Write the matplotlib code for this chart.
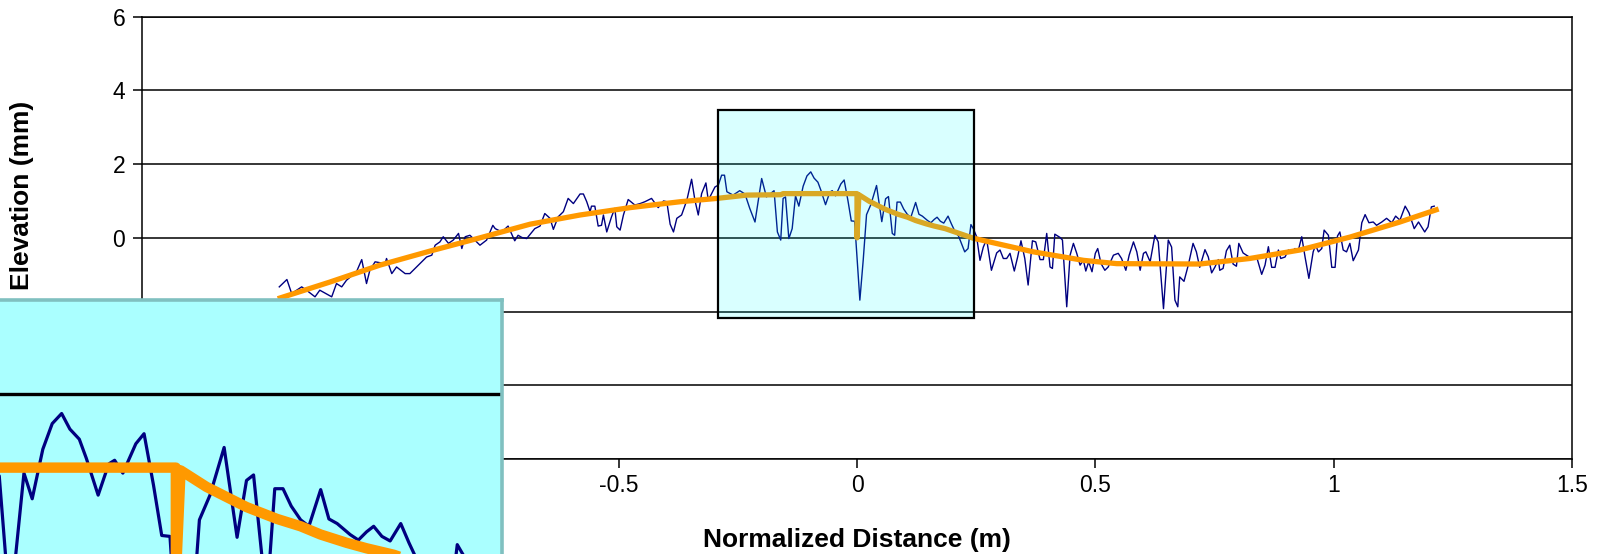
import numpy as np
import matplotlib
matplotlib.use('Agg')
import matplotlib.pyplot as plt
from matplotlib.patches import Rectangle
from matplotlib.ticker import FormatStrFormatter

plt.rcParams['font.family'] = ['Liberation Sans', 'DejaVu Sans']

# measured profile: distance (m) / elevation (mm)
dist = [
	-1.212, -1.196, -1.186, -1.165, -1.155, -1.137, -1.127, -1.102, -1.092, -1.081,
	-1.071, -1.050, -1.039, -1.029, -1.022, -1.011, -0.990, -0.987, -0.976, -0.966,
	-0.948, -0.938, -0.924, -0.903, -0.892, -0.885, -0.875, -0.868, -0.857, -0.847,
	-0.836, -0.829, -0.822, -0.812, -0.791, -0.777, -0.764, -0.759, -0.745, -0.732,
	-0.718, -0.711, -0.703, -0.693, -0.676, -0.665, -0.655, -0.644, -0.637, -0.627,
	-0.616, -0.606, -0.595, -0.581, -0.574, -0.567, -0.560, -0.557, -0.550, -0.543,
	-0.536, -0.532, -0.525, -0.515, -0.508, -0.504, -0.497, -0.490, -0.480, -0.466,
	-0.455, -0.445, -0.431, -0.417, -0.406, -0.399, -0.392, -0.385, -0.378, -0.368,
	-0.357, -0.347, -0.340, -0.333, -0.326, -0.317, -0.312, -0.305, -0.298, -0.291,
	-0.284, -0.278, -0.273, -0.266, -0.260, -0.246, -0.235, -0.225, -0.214, -0.200,
	-0.190, -0.174, -0.167, -0.160, -0.155, -0.150, -0.143, -0.136, -0.129, -0.122,
	-0.113, -0.105, -0.097, -0.090, -0.082, -0.076, -0.066, -0.057, -0.052, -0.045,
	-0.034, -0.027, -0.019, -0.012, -0.005, 0.006, 0.013, 0.020, 0.029, 0.041,
	0.052, 0.060, 0.066, 0.074, 0.079, 0.084, 0.091, 0.098, 0.106, 0.113,
	0.123, 0.130, 0.137, 0.148, 0.155, 0.162, 0.168, 0.175, 0.182, 0.191,
	0.198, 0.206, 0.213, 0.226, 0.233, 0.239, 0.244, 0.251, 0.258, 0.265,
	0.272, 0.282, 0.293, 0.300, 0.307, 0.314, 0.321, 0.330, 0.337, 0.344,
	0.352, 0.359, 0.368, 0.375, 0.384, 0.391, 0.398, 0.405, 0.410, 0.415,
	0.426, 0.431, 0.440, 0.447, 0.454, 0.461, 0.468, 0.475, 0.480, 0.486,
	0.493, 0.500, 0.505, 0.512, 0.520, 0.527, 0.538, 0.548, 0.555, 0.564,
	0.571, 0.580, 0.587, 0.594, 0.601, 0.606, 0.615, 0.625, 0.632, 0.643,
	0.653, 0.660, 0.667, 0.673, 0.677, 0.686, 0.695, 0.705, 0.712, 0.719,
	0.730, 0.737, 0.744, 0.751, 0.758, 0.761, 0.768, 0.775, 0.782, 0.789,
	0.796, 0.801, 0.810, 0.817, 0.828, 0.838, 0.849, 0.856, 0.863, 0.870,
	0.877, 0.884, 0.889, 0.898, 0.905, 0.912, 0.919, 0.926, 0.933, 0.940,
	0.948, 0.957, 0.962, 0.968, 0.975, 0.980, 0.989, 0.996, 1.003, 1.008,
	1.013, 1.020, 1.027, 1.034, 1.041, 1.052, 1.059, 1.066, 1.074, 1.083,
	1.090, 1.101, 1.111, 1.122, 1.130, 1.139, 1.150, 1.158, 1.169, 1.178,
	1.191, 1.198, 1.205, 1.211]
elev = [
	-1.33, -1.13, -1.51, -1.33, -1.42, -1.60, -1.42, -1.60, -1.24, -1.33,
	-1.15, -0.92, -0.59, -1.24, -0.88, -0.65, -0.70, -0.56, -0.97, -0.79,
	-0.97, -0.97, -0.79, -0.52, -0.47, -0.20, -0.11, 0.03, -0.15, -0.06,
	0.12, -0.29, 0.03, 0.07, -0.20, -0.06, 0.34, 0.25, 0.16, 0.32,
	-0.08, 0.07, 0.01, -0.02, 0.25, 0.32, 0.66, 0.53, 0.23, 0.57,
	0.71, 1.07, 0.93, 1.19, 1.19, 0.98, 0.71, 0.86, 0.86, 0.32,
	0.34, 0.62, 0.16, 0.57, 0.80, 0.30, 0.21, 0.62, 1.04, 0.89,
	0.93, 0.98, 1.07, 0.82, 1.00, 0.98, 0.37, 0.16, 0.53, 0.62,
	1.02, 1.59, 1.02, 0.62, 1.20, 1.49, 1.02, 1.20, 1.38, 1.43,
	1.70, 1.70, 1.25, 1.20, 1.16, 1.28, 1.19, 0.80, 0.43, 1.61,
	1.11, 1.28, 0.16, -0.06, 1.07, 1.11, -0.02, 0.25, 1.14, 0.86,
	1.40, 1.68, 1.79, 1.62, 1.51, 1.30, 0.90, 1.24, 1.28, 1.14,
	1.46, 1.57, 1.01, 0.46, 0.45, -1.69, -0.61, 0.63, 0.90, 1.42,
	0.44, 1.06, 1.12, 0.12, 0.07, 0.97, 0.97, 0.78, 0.63, 0.56,
	0.96, 0.64, 0.59, 0.47, 0.41, 0.50, 0.56, 0.45, 0.40, 0.59,
	0.38, 0.16, 0.05, -0.38, -0.29, 0.36, 0.25, 0.03, -0.61, -0.25,
	-0.04, -0.88, -0.41, -0.33, -0.56, -0.56, -0.42, -0.90, -0.52, -0.08,
	-0.56, -1.28, -0.08, -0.11, -0.59, -0.59, 0.12, -0.79, -0.83, 0.10,
	0.01, -0.06, -1.87, -0.47, -0.15, -0.42, -0.74, -0.61, -0.90, -0.65,
	-0.92, -0.42, -0.29, -0.70, -0.88, -0.79, -0.47, -0.42, -0.56, -0.88,
	-0.47, -0.11, -0.38, -0.88, -0.42, -0.38, -0.65, 0.07, -0.11, -1.92,
	-0.06, -0.25, -1.69, -1.87, -1.06, -1.18, -0.74, -0.15, -0.38, -0.80,
	-0.32, -0.52, -0.95, -0.79, -0.59, -0.88, -0.83, -0.35, -0.20, -0.71,
	-0.77, -0.15, -0.41, -0.47, -0.56, -0.50, -0.99, -0.74, -0.24, -0.80,
	-0.80, -0.33, -0.56, -0.52, -0.33, -0.38, -0.29, -0.33, 0.03, -0.52,
	-1.10, -0.38, -0.20, -0.38, -0.29, 0.21, 0.07, -0.80, -0.80, 0.05,
	0.16, -0.33, -0.38, -0.15, -0.62, -0.33, 0.41, 0.63, 0.41, 0.43,
	0.34, 0.43, 0.53, 0.41, 0.59, 0.48, 0.86, 0.68, 0.25, 0.43,
	0.16, 0.30, 0.84, 0.86]

# fitted profile (the drop at 0 marks the joint)
fit_dist = [-1.21, -1.106, -1.001, -0.896, -0.791, -0.686, -0.581, -0.476, -0.371, -0.294,
	-0.231, -0.16, -0.155, 0.0, 0.0, 0.004, 0.026, 0.043, 0.060, 0.086,
	0.106, 0.123, 0.145, 0.162, 0.185, 0.244, 0.370, 0.475, 0.545, 0.719,
	0.824, 0.929, 1.034, 1.139, 1.215]
fit_elev = [-1.63, -1.20, -0.74, -0.36, 0.0, 0.37, 0.62, 0.82, 0.98, 1.07,
	1.16, 1.17, 1.2, 1.2, 0.0, 1.17, 0.99, 0.88, 0.77, 0.64,
	0.56, 0.47, 0.38, 0.32, 0.25, -0.01, -0.38, -0.61, -0.70, -0.71,
	-0.56, -0.33, 0.02, 0.43, 0.76]

xticks = [-1.5, -1, -0.5, 0, 0.5, 1, 1.5]
yticks = [-6, -4, -2, 0, 2, 4, 6]

# window around the joint that gets blown up
win_x = (-0.292, 0.245)
win_y = (-2.17, 3.47)

BLUE = '#000080'
ORANGE = '#FF9900'

W, H = 1604, 554
fig = plt.figure(figsize=(W/100, H/100), dpi=100)

def px_box(left, top, right, bottom):
	return [left/W, 1-bottom/H, (right-left)/W, (bottom-top)/H]

ax = fig.add_axes(px_box(142, 16.7, 1572, 459))
ax.set_xlim(-1.5, 1.5)
ax.set_ylim(-6, 6)
ax.set_xticks(xticks)
ax.set_yticks(yticks)
ax.xaxis.set_major_formatter(FormatStrFormatter('%g'))
ax.yaxis.set_major_formatter(FormatStrFormatter('%g'))
ax.tick_params(direction='out', length=6.5, width=1.1, labelsize=16.5, colors='black')
ax.tick_params(axis='y', pad=5.5)
ax.tick_params(axis='x', pad=4)
for s in ax.spines.values():
	s.set_linewidth(1.1)
	s.set_color('black')
for y in yticks:
	ax.axhline(y, color='black', lw=1.1, zorder=1)

ax.plot(dist, elev, color=BLUE, lw=1.0, zorder=2)
ax.plot(fit_dist, fit_elev, color=ORANGE, lw=3.8, zorder=3, solid_joinstyle='round')
ax.add_patch(Rectangle((win_x[0], win_y[0]), win_x[1]-win_x[0], win_y[1]-win_y[0],
	facecolor=(0, 1, 1, 0.15), edgecolor='black', lw=1.6, zorder=4))

fig.text(857/W, 1-540/H, 'Normalized Distance (m)', ha='center', va='center',
	fontsize=19, fontweight='bold')
fig.text(22/W, 1-195/H, 'Elevation (mm)', ha='center', va='center', rotation=90,
	fontsize=19, fontweight='bold')

# enlarged view, hangs off the lower left corner
ins = fig.add_axes(px_box(-165.6, 299.8, 502, 779.4))
ins.set_zorder(5)
ins.set_facecolor('#AAFFFF')
ins.set_xlim(-0.29, 0.277)
ins.set_ylim(-2.2, 3.03)
ins.set_xticks([])
ins.set_yticks([])
for s in ins.spines.values():
	s.set_linewidth(2.6)
	s.set_color('#80C0C0')
for y in yticks:
	ins.axhline(y, color='black', lw=2.4, zorder=1)
ins.plot(dist, elev, color=BLUE, lw=2.3, zorder=2)
ins.plot(fit_dist, fit_elev, color=ORANGE, lw=7.5, zorder=3, solid_joinstyle='round')

fig.savefig('out.png', dpi=100)
